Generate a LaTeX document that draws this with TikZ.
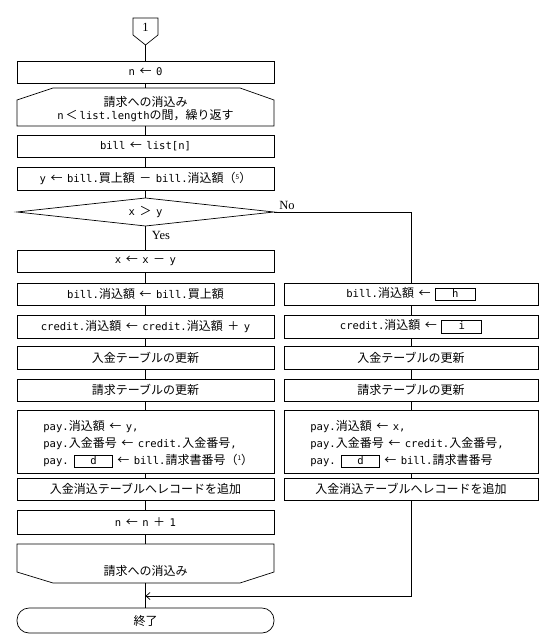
\documentclass[tikz,border=0pt]{standalone}
\usepackage{fontspec}
\setmainfont{Noto Sans CJK JP}
\setmonofont[Scale=0.88]{DejaVu Sans Mono}
\newfontfamily\serif{Liberation Serif}
\usetikzlibrary{arrows.meta}
\newcommand\m[1]{\texttt{#1}}
\newcommand\blank[2]{{\setlength\fboxsep{0.4pt}\setlength\fboxrule{0.9pt}\fbox{\makebox[#1][c]{\rule[-2.5pt]{0pt}{10.5pt}\m{#2}}}}}
\newcommand\fn[1]{（\raisebox{3.5pt}{\fontsize{6.5}{6.5}\selectfont #1}）}
\newcommand\myfont{\fontsize{12}{15}\selectfont\setlength{\spaceskip}{4.5pt plus 1pt}}
\newcommand\myfontm{\fontsize{12}{17}\selectfont\setlength{\spaceskip}{4.5pt plus 1pt}}
\begin{document}
\begin{tikzpicture}[x=1pt,y=-1pt,line width=0.7pt,
  every node/.style={font=\myfont},
  lbox/.style={draw, minimum width=257pt, minimum height=#1, inner sep=0pt},
  lbox/.default=23pt,
  rbox/.style={draw, minimum width=254pt, minimum height=#1, inner sep=0pt},
  rbox/.default=23pt,
  lbl/.style={font=\serif\fontsize{12.5}{14}\selectfont, inner sep=0pt},
  multi/.style={align=left, anchor=west, inner sep=0pt, font=\myfontm}]
\useasboundingbox (0,0) rectangle (547,644);

% connector "1"
\coordinate (c1tip) at (145.5,45);
\draw (133,18) -- (158,18) -- (158,35) -- (c1tip) -- (133,35) -- cycle;
\node[lbl] (c1) at (145.5,27) {1};

\node[lbox=22pt] (n0) at (145.5,72) {\m{n} ← \m{0}};

% loop start
\draw (53,88) -- (240,88) -- (274,100) -- (274,126) -- (17,126) -- (17,100) -- cycle;
\coordinate (lsT) at (145.5,88);
\coordinate (lsB) at (145.5,126);
\node (ls1) at (145.5,102) {請求への消込み};
\node (ls2) at (145.5,116) {\m{n}\,＜\,\m{list.length}の間，繰り返す};

\node[lbox=22pt] (bl) at (145.5,146) {\m{bill} ← \m{list[n]}};
\node[lbox=23pt] (yy) at (145.5,178.5) {\m{y} ← \m{bill.}買上額 － \m{bill.}消込額\fn{5}};

% decision
\coordinate (dT) at (145.5,198);
\coordinate (dB) at (145.5,226);
\coordinate (dL) at (17,212);
\coordinate (dR) at (274,212);
\draw (dL) -- (dT) -- (dR) -- (dB) -- cycle;
\node (dt) at (145.5,212) {\m{x} ＞ \m{y}};
\node[lbl] (no) at (287,205) {No};
\node[lbl] (yes) at (161,235) {Yes};

% left column
\node[lbox=22pt] (xx) at (145.5,261) {\m{x} ← \m{x} － \m{y}};
\node[lbox=22pt] (b2L) at (145.5,294) {\m{bill.}消込額 ← \m{bill.}買上額};
\node[lbox=23pt] (crL) at (145.5,326.5) {\m{credit.}消込額 ← \m{credit.}消込額 ＋ \m{y}};
\node[lbox=23pt] (nkL) at (145.5,357.5) {入金テーブルの更新};
\node[lbox=22pt] (skL) at (145.5,390) {請求テーブルの更新};
\node[lbox=63pt] (payL) at (145.5,441.5) {};
\node[multi] (payLt) at (43,444) {\m{pay.}消込額 ← \m{y,}\\\m{pay.}入金番号 ← \m{credit.}入金番号\m{,}\\\m{pay.} \blank{36pt}{d} ← \m{bill.}請求書番号\fn{1}};
\node[lbox=22pt] (adL) at (145.5,489) {入金消込テーブルへレコードを追加};
\node[lbox=24pt] (inc) at (145.5,522) {\m{n} ← \m{n} ＋ \m{1}};

% loop end
\draw (17,544) -- (274,544) -- (274,572) -- (240,583) -- (53,583) -- (17,572) -- cycle;
\coordinate (leT) at (145.5,544);
\coordinate (leB) at (145.5,583);
\node (le) at (145.5,571) {請求への消込み};

\node[draw, rounded corners=12pt, minimum width=257pt, minimum height=25pt, inner sep=0pt] (end) at (145.5,620.5) {終了};

% right column
\node[rbox=22pt] (b2R) at (411,294) {\m{bill.}消込額 ← \blank{38pt}{h}};
\node[rbox=23pt] (crR) at (411,326.5) {\m{credit.}消込額 ← \blank{38pt}{i}};
\node[rbox=23pt] (nkR) at (411,357.5) {入金テーブルの更新};
\node[rbox=22pt] (skR) at (411,390) {請求テーブルの更新};
\node[rbox=63pt] (payR) at (411,441.5) {};
\node[multi] (payRt) at (310,444) {\m{pay.}消込額 ← \m{x,}\\\m{pay.}入金番号 ← \m{credit.}入金番号\m{,}\\\m{pay.} \blank{36pt}{d} ← \m{bill.}請求書番号};
\node[rbox=22pt] (adR) at (411,489) {入金消込テーブルへレコードを追加};

\coordinate (mrg) at (145.5,596);

% connectors
\draw (c1tip) -- (n0.north);
\draw (n0.south) -- (lsT);
\draw (lsB) -- (bl.north);
\draw (bl.south) -- (yy.north);
\draw (yy.south) -- (dT);
\draw (dB) -- (xx.north);
\draw (xx.south) -- (b2L.north);
\draw (b2L.south) -- (crL.north);
\draw (crL.south) -- (nkL.north);
\draw (nkL.south) -- (skL.north);
\draw (skL.south) -- (payL.north);
\draw (payL.south) -- (adL.north);
\draw (adL.south) -- (inc.north);
\draw (inc.south) -- (leT);
\draw (leB) -- (end.north);
\draw (dR) -| (b2R.north);
\draw (b2R.south) -- (crR.north);
\draw (crR.south) -- (nkR.north);
\draw (nkR.south) -- (skR.north);
\draw (skR.south) -- (payR.north);
\draw (payR.south) -- (adR.north);
\draw[-{Straight Barb[length=4pt,width=7pt]}] (adR.south) |- (mrg);
\end{tikzpicture}
\end{document}
